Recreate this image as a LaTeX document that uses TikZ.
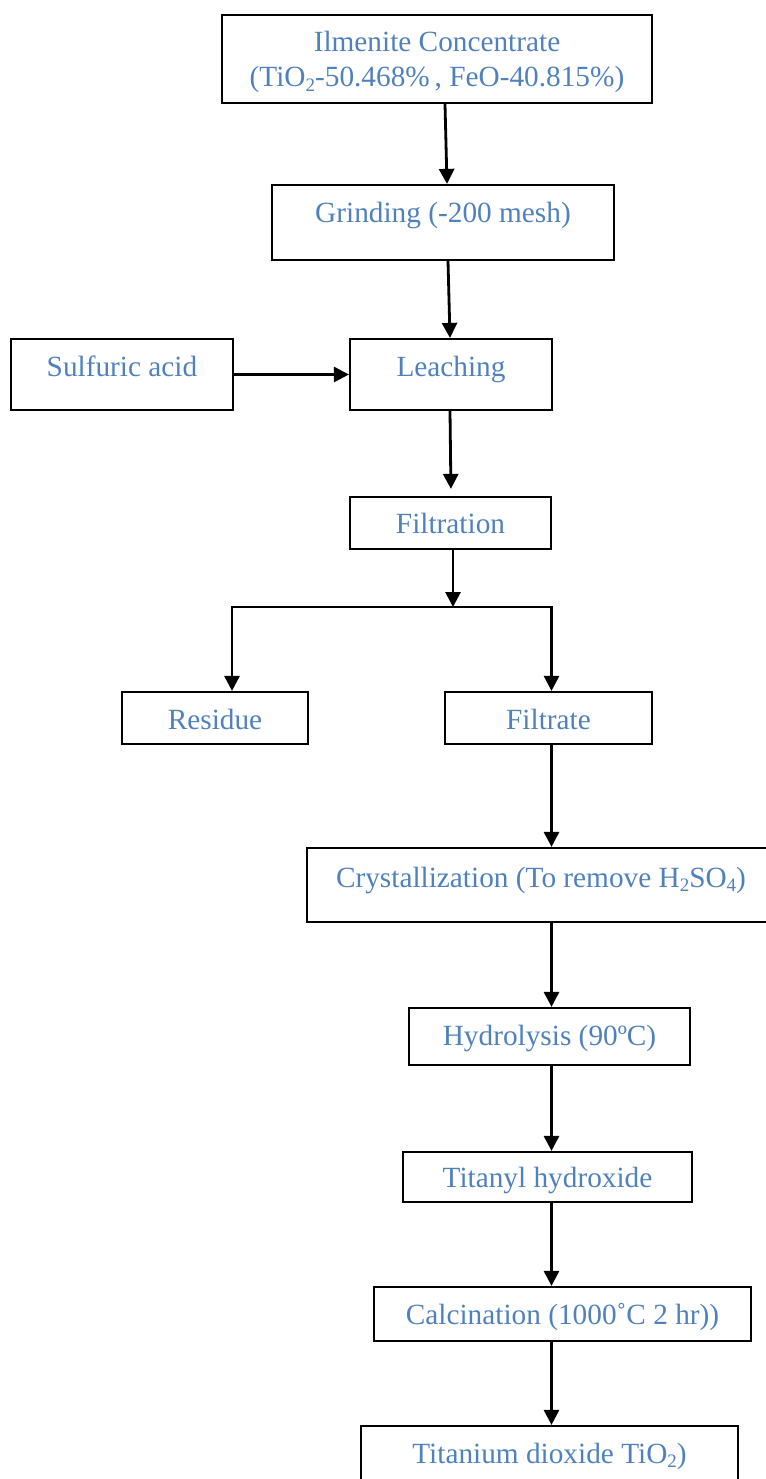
\documentclass[tikz,border=0pt]{standalone}
\usepackage{fontspec}
\setmainfont{Liberation Serif}
\usetikzlibrary{arrows.meta}
\definecolor{txtblue}{RGB}{79,129,189}
\newcommand{\lowsub}[1]{\raisebox{-0.17em}{\fontsize{19}{19}\selectfont #1}}
\begin{document}
\begin{tikzpicture}[x=1pt,y=-1pt,
  box/.style={draw=black, line width=2.2pt, rectangle, inner sep=0pt},
  lbl/.style={anchor=base, text=txtblue, font=\fontsize{29.3}{35}\selectfont, inner sep=0pt},
  arr/.style={line width=2.8pt, -{Triangle[length=15pt,width=15pt]}},
  ln/.style={line width=2.8pt}]
\useasboundingbox (0,0) rectangle (765,1479);

% boxes
\node[box, minimum width=430pt, minimum height=88pt] (ilm) at (437,59) {};
\node[box, minimum width=342pt, minimum height=75pt] (grind) at (443,222.5) {};
\node[box, minimum width=222pt, minimum height=71pt] (sulf) at (122,374.5) {};
\node[box, minimum width=202pt, minimum height=71pt] (leach) at (451,374.5) {};
\node[box, minimum width=201pt, minimum height=52pt] (filt) at (450.5,523) {};
\node[box, minimum width=186pt, minimum height=52pt] (resid) at (215,718) {};
\node[box, minimum width=207pt, minimum height=52pt] (filtr) at (548.5,718) {};
\node[box, minimum width=468pt, minimum height=74pt] (cryst) at (541,885) {};
\node[box, minimum width=281pt, minimum height=57pt] (hydro) at (549.5,1036.5) {};
\node[box, minimum width=289pt, minimum height=50pt] (tita) at (547.5,1177) {};
\node[box, minimum width=377pt, minimum height=54pt] (calc) at (562.5,1314) {};
\node[box, minimum width=377pt, minimum height=64pt] (tio) at (549.5,1458) {};

% labels
\node[lbl] (ilmA) at (437,52) {Ilmenite Concentrate};
\node[lbl] (ilmB) at (437,87) {(TiO\lowsub{2}-50.468\%\,, FeO-40.815\%)};
\node[lbl] (grindT) at (443,223) {Grinding (-200 mesh)};
\node[lbl] (sulfT) at (122,376) {Sulfuric acid};
\node[lbl] (leachT) at (451,376) {Leaching};
\node[lbl] (filtT) at (450.5,533) {Filtration};
\node[lbl] (residT) at (215,729) {Residue};
\node[lbl] (filtrT) at (548.5,729) {Filtrate};
\node[lbl] (crystT) at (541,887) {Crystallization (To remove H\lowsub{2}SO\lowsub{4})};
\node[lbl] (hydroT) at (549.5,1045) {Hydrolysis (90ºC)};
\node[lbl] (titaT) at (547.5,1187) {Titanyl hydroxide};
\node[lbl] (calcT) at (562.5,1324) {Calcination (1000˚C 2 hr))};
\node[lbl] (tioT) at (549.5,1463) {Titanium dioxide TiO\lowsub{2})};

% connectors
\coordinate (split) at (453,607);
\coordinate (lc) at (232,607);
\coordinate (rc) at (551.5,607);
\draw[arr] ([xshift=8pt]ilm.south) -- ([xshift=4pt]grind.north);
\draw[arr] ([xshift=5pt]grind.south) -- ([xshift=-1pt]leach.north);
\draw[arr] (sulf.east) -- (leach.west);
\draw[arr, shorten >=7pt] ([xshift=-1pt]leach.south) -- ([xshift=0.5pt]filt.north);
\draw[arr] ([xshift=2.5pt]filt.south) -- (split);
\draw[ln, line join=miter, {Triangle[length=15pt,width=15pt]}-{Triangle[length=15pt,width=15pt]}]
  (lc |- resid.north) -- (lc) -- (rc) -- (rc |- filtr.north);
\draw[arr] (filtr.south -| rc) -- (cryst.north -| rc);
\draw[arr] (cryst.south -| rc) -- (hydro.north -| rc);
\draw[arr] (hydro.south -| rc) -- (tita.north -| rc);
\draw[arr] (tita.south -| rc) -- (calc.north -| rc);
\draw[arr] (calc.south -| rc) -- (tio.north -| rc);
\end{tikzpicture}
\end{document}
